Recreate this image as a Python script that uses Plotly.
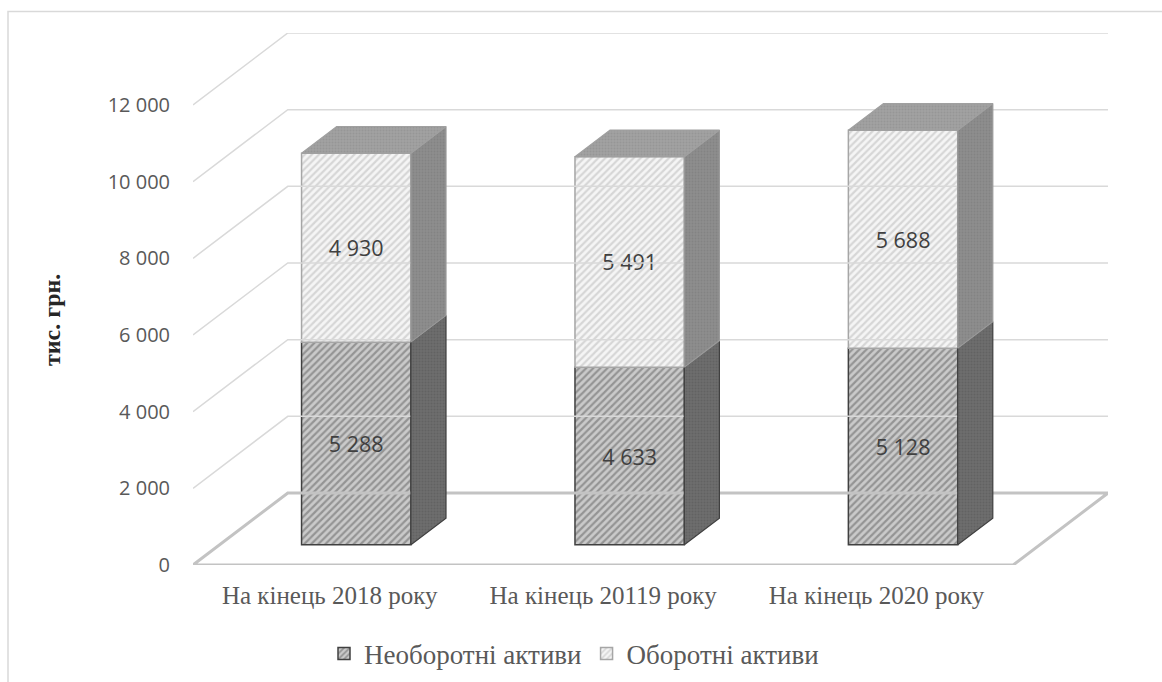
import plotly.graph_objects as go

# Data
categories = ["На кінець 2018 року", "На кінець 20119 року", "На кінець 2020 року"]
non_current = [5288, 4633, 5128]      # Необоротні активи
current = [4930, 5491, 5688]          # Оборотні активи
tick_values = [0, 2000, 4000, 6000, 8000, 10000, 12000]
series_names = ["Необоротні активи", "Оборотні активи"]

# Oblique projection of the depth axis (x in category units, y in value units)
DX = 0.3467
DY = 1878.0
D0 = 0.28     # depth where the column front faces sit
DD = 0.37     # column depth
BAR_W = 0.40
Y_MAX = tick_values[-1]


def fmt(v):
    return f"{v:,}".replace(",", " ")


fig = go.Figure()

# Walls: left-wall diagonals and back-wall gridlines
gx, gy = [], []
for v in tick_values[1:]:
    gx += [-0.5, -0.5 + DX, 2.5 + DX, None]
    gy += [v, v + DY, v + DY, None]
fig.add_trace(go.Scatter(x=gx, y=gy, mode="lines", line=dict(color="#d9d9d9", width=1.5),
                         hoverinfo="skip", showlegend=False))

# Floor outline
fig.add_trace(go.Scatter(x=[-0.5, 2.5, 2.5 + DX, -0.5 + DX, -0.5],
                         y=[0, 0, DY, DY, 0], mode="lines",
                         line=dict(color="#c3c3c3", width=3),
                         hoverinfo="skip", showlegend=False))

base0 = D0 * DY
xs = [i + D0 * DX for i in range(len(categories))]

# Side faces of each segment
segments = [
    (non_current, [0] * len(categories), "#6e6e6e", "#555555", "#404040"),
    (current, non_current, "#8e8e8e", "#777777", "#9a9a9a"),
]
for vals, bottoms, bg, fg, edge in segments:
    px_, py_ = [], []
    for i, (v, b) in enumerate(zip(vals, bottoms)):
        xr = xs[i] + BAR_W / 2
        y0 = base0 + b
        y1 = base0 + b + v
        px_ += [xr, xr + DD * DX, xr + DD * DX, xr, xr, None]
        py_ += [y0, y0 + DD * DY, y1 + DD * DY, y1, y0, None]
    fig.add_trace(go.Scatter(x=px_, y=py_, mode="lines", fill="toself",
                             fillcolor=bg,
                             fillpattern=dict(shape=".", bgcolor=bg, fgcolor=fg, size=3, solidity=0.4),
                             line=dict(color=edge, width=1.2),
                             hoverinfo="skip", showlegend=False))

# Top faces
tx, ty = [], []
for i, (a, b) in enumerate(zip(non_current, current)):
    xl = xs[i] - BAR_W / 2
    xr = xs[i] + BAR_W / 2
    t = base0 + a + b
    tx += [xl, xr, xr + DD * DX, xl + DD * DX, xl, None]
    ty += [t, t, t + DD * DY, t + DD * DY, t, None]
fig.add_trace(go.Scatter(x=tx, y=ty, mode="lines", fill="toself", fillcolor="#9c9c9c",
                         fillpattern=dict(shape=".", bgcolor="#a2a2a2", fgcolor="#8a8a8a", size=3, solidity=0.4),
                         line=dict(color="#a0a0a0", width=1.2),
                         hoverinfo="skip", showlegend=False))

# Front faces
label_font = dict(family="Open Sans", size=21.5, color="#404040")
fig.add_trace(go.Bar(
    x=xs, y=non_current, base=[base0] * len(categories), width=BAR_W,
    name=series_names[0],
    marker=dict(color="#c9c9c9",
                pattern=dict(shape="/", bgcolor="#cacaca", fgcolor="#5e5e5e", size=5, solidity=0.45),
                line=dict(color="#404040", width=1.5)),
    text=[fmt(v) for v in non_current], textposition="inside", insidetextanchor="middle",
    textangle=0, textfont=label_font, hoverinfo="skip"))
fig.add_trace(go.Bar(
    x=xs, y=current, base=[base0 + v for v in non_current], width=BAR_W,
    name=series_names[1],
    marker=dict(color="#eeeeee",
                pattern=dict(shape="/", bgcolor="#f5f5f5", fgcolor="#b8b8b8", size=5, solidity=0.45),
                line=dict(color="#a6a6a6", width=1.5)),
    text=[fmt(v) for v in current], textposition="inside", insidetextanchor="middle",
    textangle=0, textfont=label_font, hoverinfo="skip"))

W, H = 1162, 682
L, R, T, B = 193, 54, 33, 117
pw, ph = W - L - R, H - T - B


def paper_x(px):
    return (px - L) / pw


def paper_y(py):
    return (H - B - py) / ph


fig.update_layout(
    width=W, height=H,
    margin=dict(l=L, r=R, t=T, b=B, pad=0, autoexpand=False),
    paper_bgcolor="white", plot_bgcolor="white",
    barmode="overlay",
    showlegend=True,
    legend=dict(orientation="h", x=paper_x(574), y=paper_y(654),
                xanchor="center", yanchor="middle",
                font=dict(family="Liberation Serif", size=27, color="#595959"),
                itemwidth=30, traceorder="normal"),
    xaxis=dict(range=[-0.5, 2.5 + DX], tickvals=[0, 1, 2], ticktext=categories,
               showgrid=False, zeroline=False, showline=False, ticks="",
               ticklabelstandoff=13,
               tickfont=dict(family="Liberation Serif", size=25, color="#595959")),
    yaxis=dict(range=[0, Y_MAX + DY], tickvals=tick_values,
               ticktext=[fmt(v) for v in tick_values],
               showgrid=False, zeroline=False, showline=False, ticks="",
               ticklabelstandoff=22,
               tickfont=dict(family="Open Sans", size=20, color="#595959")),
    annotations=[dict(text="<b>тис. грн.</b>", textangle=-90, showarrow=False,
                      xref="paper", yref="paper", x=paper_x(52), y=paper_y(320),
                      xanchor="center", yanchor="middle",
                      font=dict(family="Liberation Serif", size=24, color="#262626"))],
    shapes=[dict(type="rect", xref="paper", yref="paper",
                 x0=paper_x(8), x1=paper_x(1250), y0=paper_y(11.5), y1=paper_y(760),
                 line=dict(color="#d9d9d9", width=1.5), fillcolor="rgba(0,0,0,0)", layer="below")],
)

fig.write_html("out.html")
